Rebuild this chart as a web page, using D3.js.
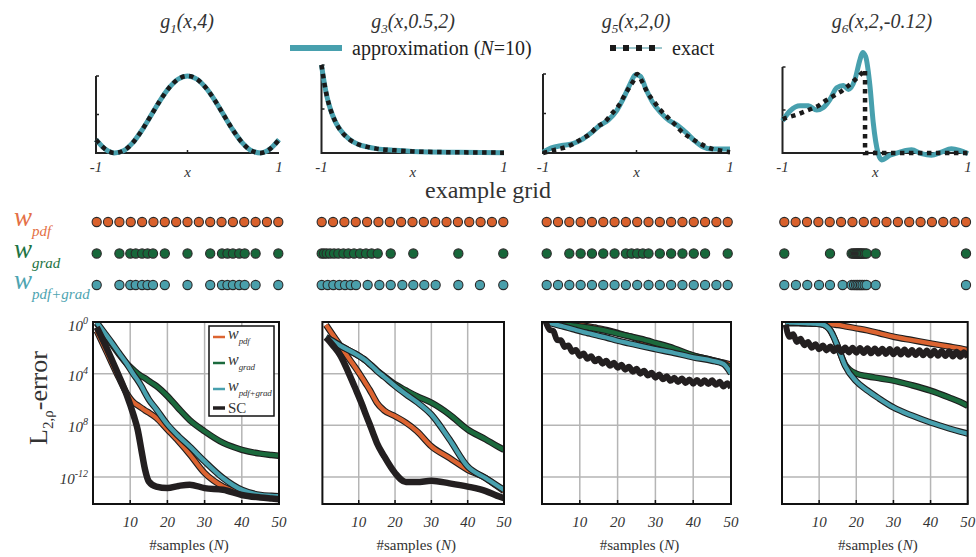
<!DOCTYPE html>
<html>
<head>
<meta charset="utf-8">
<script src="https://cdn.jsdelivr.net/npm/d3@7"></script>
<style>
  body { margin: 0; background: #fff; }
  svg { display: block; font-family: "Liberation Serif", serif; }
</style>
</head>
<body>
<div class="canvas"></div>
<script>
// ---- data ----
const titleSubs = ["1", "3", "5", "6"]
const titleArgs = ["(x,4)", "(x,0.5,2)", "(x,2,0)", "(x,2,-0.12)"]

// top row: exact function and N=10 approximation (relative to axis range)
const exact1X = [-1,-0.9,-0.8,-0.7,-0.6,-0.5,-0.4,-0.3,-0.2,-0.1,0,0.1,0.2,0.3,0.4,0.5,0.6,0.7,0.8,0.9,1]
const exact1Y = [0.173,0.051,0.001,0.029,0.131,0.292,0.485,0.681,0.848,0.961,1,0.961,0.848,0.681,0.485,0.292,0.131,0.029,0.001,0.051,0.173]
const exact2X = [-1,-0.97,-0.94,-0.9,-0.85,-0.8,-0.7,-0.6,-0.5,-0.4,-0.2,0,0.5,1]
const exact2Y = [1,0.8,0.64,0.49,0.36,0.27,0.16,0.1,0.07,0.05,0.03,0.018,0.008,0.004]
const exact3X = [-1,-0.874,-0.766,-0.676,-0.586,-0.496,-0.424,-0.342,-0.263,-0.19,-0.137,-0.083,-0.029,0.007,0.061,0.115,0.187,0.259,0.331,0.403,0.493,0.565,0.655,0.745,0.817,0.906,1]
const exact3Y = [0,0.04,0.07,0.115,0.18,0.24,0.33,0.39,0.5,0.6,0.71,0.82,0.92,1,0.9,0.77,0.65,0.54,0.455,0.37,0.26,0.2,0.136,0.08,0.05,0.03,0.01]
const approx3X = [-1,-0.91,-0.8,-0.69,-0.59,-0.48,-0.39,-0.3,-0.21,-0.14,-0.065,-0.011,0.043,0.097,0.169,0.259,0.349,0.439,0.529,0.619,0.709,0.799,0.888,1]
const approx3Y = [0.01,0.064,0.094,0.115,0.166,0.26,0.35,0.42,0.54,0.69,0.88,0.99,0.97,0.82,0.65,0.51,0.41,0.35,0.26,0.157,0.08,0.05,0.05,0.05]
const exact4X = [-1,-0.828,-0.72,-0.613,-0.541,-0.452,-0.362,-0.272,-0.183,-0.11,-0.11,1]
const exact4Y = [0.395,0.452,0.5,0.548,0.605,0.663,0.72,0.797,0.885,0.97,0,0]
const approx4X = [-1,-0.918,-0.81,-0.72,-0.631,-0.559,-0.487,-0.416,-0.344,-0.29,-0.219,-0.165,-0.136,-0.104,-0.057,-0.022,0.032,0.068,0.158,0.265,0.391,0.498,0.606,0.713,0.821,0.91,1]
const approx4Y = [0.375,0.49,0.548,0.548,0.5,0.529,0.625,0.759,0.785,0.739,0.854,1.084,1.169,1.123,0.778,0.356,-0.008,-0.08,-0.027,0.011,0.038,-0.008,-0.027,0.011,0.05,0.031,-0.008]

// example grids (17 points on [-1,1])
const gridPdf = [-1,-0.875,-0.75,-0.625,-0.5,-0.375,-0.25,-0.125,0,0.125,0.25,0.375,0.5,0.625,0.75,0.875,1]
const grad1 = [-1,-0.75,-0.63,-0.57,-0.5,-0.44,-0.38,-0.25,0,0.25,0.38,0.44,0.5,0.57,0.63,0.75,1]
const both1 = grad1
const grad2 = [-1,-0.974,-0.945,-0.908,-0.864,-0.817,-0.761,-0.706,-0.644,-0.578,-0.512,-0.45,-0.383,-0.24,0.009,0.505,1]
const both2 = [-1,-0.934,-0.872,-0.806,-0.743,-0.681,-0.622,-0.494,-0.365,-0.24,-0.112,0.009,0.13,0.255,0.505,0.743,1]
const grad3 = [-1,-0.75,-0.625,-0.5,-0.375,-0.25,-0.125,-0.0625,0,0.0625,0.125,0.25,0.375,0.5,0.625,0.75,1]
const both3 = gridPdf
const grad4 = [-1,-0.497,-0.259,-0.24,-0.226,-0.211,-0.2,-0.189,-0.178,-0.167,-0.156,-0.145,-0.13,-0.112,-0.094,0.006,1]
const both4 = [-1,-0.872,-0.747,-0.618,-0.497,-0.358,-0.259,-0.233,-0.211,-0.193,-0.174,-0.156,-0.138,-0.116,-0.094,0.006,1]

// error curves, log10 of L2 error
const nGrid = [1,3,5,7,9,11,12,13,14,15,17,20,23,26,30,35,40,45,48,50]
const nAll = d3.range(1, 51)
const err1Pdf  = [-0.68,-1.9,-3.14,-4.35,-5.5,-6.25,-6.45,-6.65,-6.85,-7.02,-7.42,-8.33,-9.25,-10.25,-11.7,-12.75,-13.26,-13.5,-13.6,-13.65]
const err1Grad = [-0.1,-0.9,-1.7,-2.5,-3.2,-3.75,-4.0,-4.2,-4.35,-4.57,-4.95,-5.74,-6.7,-7.6,-8.47,-9.37,-9.9,-10.2,-10.3,-10.36]
const err1Both = [-0.03,-0.8,-1.58,-2.4,-3.2,-4.1,-4.5,-4.96,-5.5,-6.0,-6.75,-7.94,-8.85,-9.65,-10.8,-12.1,-13.0,-13.4,-13.47,-13.5]
const err1SC   = [-0.41,-1.6,-2.88,-4.2,-5.6,-7.3,-8.33,-9.9,-11.45,-12.36,-12.75,-12.87,-12.7,-12.6,-12.87,-13.0,-13.4,-13.6,-13.68,-13.73]
const err2Pdf  = [-0.22,-1.05,-1.85,-2.7,-3.5,-4.35,-4.8,-5.25,-5.75,-6.25,-6.85,-7.3,-7.8,-8.45,-9.63,-10.54,-11.45,-12.1,-12.7,-13.1]
const err2Grad = [-1.19,-1.5,-1.85,-2.15,-2.45,-2.8,-3.0,-3.25,-3.5,-3.75,-4.2,-4.83,-5.3,-5.75,-6.25,-7.17,-8.33,-9.1,-9.6,-9.9]
const err2Both = [-1.19,-1.5,-1.85,-2.15,-2.45,-2.8,-3.0,-3.25,-3.5,-3.79,-4.25,-4.96,-5.6,-6.2,-7.17,-9.1,-11.2,-12.1,-12.65,-13.0]
const err2SC   = [-1.19,-1.85,-2.62,-3.8,-5.1,-6.45,-7.2,-7.9,-8.65,-9.37,-10.4,-11.7,-12.4,-12.4,-12.3,-12.5,-12.75,-13.1,-13.45,-13.65]
const err3Pdf  = [0,-0.03,-0.08,-0.13,-0.2,-0.28,-0.33,-0.38,-0.43,-0.5,-0.62,-0.85,-1.1,-1.4,-1.8,-2.2,-2.6,-2.95,-3.15,-3.3]
const err3Grad = [0,-0.08,-0.15,-0.22,-0.3,-0.38,-0.42,-0.47,-0.52,-0.57,-0.68,-0.9,-1.1,-1.3,-1.62,-2.05,-2.6,-2.95,-3.2,-3.55]
const err3Both = [0,-0.15,-0.3,-0.45,-0.62,-0.78,-0.85,-0.92,-1.0,-1.07,-1.2,-1.45,-1.65,-1.85,-2.1,-2.4,-2.74,-3.0,-3.25,-4.0]
const err3SC   = [0,-0.6,-0.7,-1.4,-1.42,-1.93,-1.82,-2.3,-2.17,-2.63,-2.45,-2.85,-2.65,-3.05,-2.85,-3.23,-3.01,-3.39,-3.16,-3.54,
                  -3.31,-3.69,-3.47,-3.85,-3.62,-4.0,-3.78,-4.15,-3.93,-4.31,-4.07,-4.43,-4.2,-4.56,-4.32,-4.65,-4.38,-4.72,-4.45,-4.78,
                  -4.49,-4.8,-4.51,-4.81,-4.52,-4.87,-4.63,-4.99,-4.74,-5.09]
const err4Pdf  = [-0.1,-0.1,-0.1,-0.1,-0.1,-0.12,-0.14,-0.17,-0.2,-0.23,-0.33,-0.49,-0.65,-0.85,-1.14,-1.4,-1.66,-1.9,-2.05,-2.18]
const err4Grad = [-0.05,-0.05,-0.07,-0.1,-0.13,-0.2,-0.35,-0.65,-1.2,-1.9,-3.3,-4.0,-4.2,-4.35,-4.54,-4.9,-5.32,-5.85,-6.2,-6.49]
const err4Both = [-0.05,-0.05,-0.07,-0.1,-0.13,-0.2,-0.35,-0.65,-1.2,-1.9,-3.4,-4.6,-5.3,-5.9,-6.62,-7.25,-7.79,-8.25,-8.5,-8.65]
const err4SC   = [-0.2,-1.15,-0.95,-1.55,-1.3,-1.8,-1.55,-2.0,-1.72,-2.12,-1.82,-2.2,-1.9,-2.27,-1.95,-2.32,-1.98,-2.36,-2.0,-2.38,
                  -2.02,-2.4,-2.04,-2.43,-2.06,-2.45,-2.08,-2.47,-2.1,-2.5,-2.12,-2.52,-2.14,-2.54,-2.16,-2.56,-2.18,-2.58,-2.2,-2.6,
                  -2.22,-2.62,-2.24,-2.64,-2.27,-2.67,-2.3,-2.7,-2.35,-2.75]

const xTicks = [10, 20, 30, 40, 50]
const yTicks = [0, -4, -8, -12]
const yTickLabels = ["0", "4", "8", "-12"]
const methods = ["pdf", "grad", "pdf+grad"]

// ---- style ----
const cOrange = "#dc6431", cGreen = "#1b6a3d", cTeal = "#48a0ae", cBlack = "#231f20"
const labelColors = ["#e47046", "#1e7444", "#4ea4b1"]
const dotColors = ["#d9612c", "#17673a", "#4a9fab"]

const svg = d3.select(".canvas").append("svg").attr("width", 976).attr("height", 557)

// ---- top row: functions ----
const topPanels = [
  {x0: 96, x1: 279, top: 76, tx: 187, ex: [exact1X, exact1Y], ap: [exact1X, exact1Y]},
  {x0: 321.5, x1: 504, top: 65, tx: 413, ex: [exact2X, exact2Y], ap: [exact2X, exact2Y]},
  {x0: 543, x1: 730, top: 74, tx: 636, ex: [exact3X, exact3Y], ap: [approx3X, approx3Y]},
  {x0: 782.5, x1: 968, top: 67, tx: 882, ex: [exact4X, exact4Y], ap: [approx4X, approx4Y]}
]
const base = 153

topPanels.forEach((p, i) => {
  const x = d3.scaleLinear().domain([-1, 1]).range([p.x0, p.x1])
  const y = d3.scaleLinear().domain([0, 1]).range([base, p.top])
  const g = svg.append("g")

  const t = g.append("text").attr("x", p.tx).attr("y", 28).attr("text-anchor", "middle")
    .attr("font-size", 20).attr("font-style", "italic").attr("fill", "#333")
  t.append("tspan").text("g")
  t.append("tspan").attr("font-size", 13).attr("dy", 5).text(titleSubs[i])
  t.append("tspan").attr("dy", -5).text(titleArgs[i])

  // axes
  g.append("path").attr("d", `M${p.x0},${p.top}V${base}H${p.x1}`)
    .attr("fill", "none").attr("stroke", "#222").attr("stroke-width", 2)
  g.selectAll(".yt").data([0.5, 1]).join("line")
    .attr("x1", p.x0).attr("x2", p.x0 + 3).attr("y1", d => y(d)).attr("y2", d => y(d))
    .attr("stroke", "#222").attr("stroke-width", 1.5)
  g.append("line").attr("x1", x(0)).attr("x2", x(0)).attr("y1", base).attr("y2", base - 3)
    .attr("stroke", "#222").attr("stroke-width", 1.5)

  const lx = d3.line().x(d => x(d[0])).y(d => y(d[1]))
  const hasStep = new Set(p.ex[0]).size < p.ex[0].length
  g.append("path").datum(d3.zip(p.ap[0], p.ap[1]))
    .attr("d", lx.curve(d3.curveMonotoneX))
    .attr("fill", "none").attr("stroke", cTeal).attr("stroke-width", 5)
  g.append("path").datum(d3.zip(p.ex[0], p.ex[1]))
    .attr("d", lx.curve(hasStep ? d3.curveLinear : d3.curveMonotoneX))
    .attr("fill", "none").attr("stroke", "#1a1a1a").attr("stroke-width", 4.5)
    .attr("stroke-dasharray", "4.5,4.5")

  const lab = (tx, xx, yy) => g.append("text").attr("x", xx).attr("y", yy).attr("text-anchor", "middle")
    .attr("font-size", 15).attr("font-style", "italic").attr("fill", "#333").text(tx)
  lab("-1", p.x0, 172)
  lab("1", p.x1, 172)
  lab("x", x(0), 177)
})

// top legend
svg.append("line").attr("x1", 290).attr("x2", 342).attr("y1", 48).attr("y2", 48)
  .attr("stroke", cTeal).attr("stroke-width", 6)
const la = svg.append("text").attr("x", 352).attr("y", 55).attr("font-size", 20).attr("fill", "#222")
la.append("tspan").text("approximation (")
la.append("tspan").attr("font-style", "italic").text("N")
la.append("tspan").text("=10)")
svg.append("line").attr("x1", 610).attr("x2", 662).attr("y1", 48).attr("y2", 48)
  .attr("stroke", "#3d8f9a").attr("stroke-width", 1)
svg.append("line").attr("x1", 610).attr("x2", 662).attr("y1", 48).attr("y2", 48)
  .attr("stroke", "#1a1a1a").attr("stroke-width", 6).attr("stroke-dasharray", "6,7")
svg.append("text").attr("x", 672).attr("y", 55).attr("font-size", 20).attr("fill", "#222").text("exact")

// ---- middle row: example grids ----
svg.append("text").attr("x", 488).attr("y", 198).attr("text-anchor", "middle")
  .attr("font-size", 24).attr("fill", "#333").text("example grid")

const rowY = [222, 253.5, 285]
methods.forEach((m, r) => {
  const t = svg.append("text").attr("x", 14).attr("y", rowY[r] + 4).attr("fill", labelColors[r])
    .attr("font-style", "italic")
  t.append("tspan").attr("font-size", 27).text("w")
  t.append("tspan").attr("font-size", 15).attr("dy", 10).text(m)
})

const gridPanels = [
  {x0: 96.7, x1: 278.3, rows: [gridPdf, grad1, both1]},
  {x0: 321.7, x1: 503.3, rows: [gridPdf, grad2, both2]},
  {x0: 546.7, x1: 727.7, rows: [gridPdf, grad3, both3]},
  {x0: 784.3, x1: 966, rows: [gridPdf, grad4, both4]}
]
gridPanels.forEach(p => {
  const x = d3.scaleLinear().domain([-1, 1]).range([p.x0, p.x1])
  p.rows.forEach((pts, r) => {
    svg.append("g").selectAll("circle").data(pts).join("circle")
      .attr("cx", d => x(d)).attr("cy", rowY[r]).attr("r", 4.6)
      .attr("fill", dotColors[r]).attr("stroke", "#2a2a2a").attr("stroke-width", 1.1)
  })
})

// ---- bottom row: errors ----
const botPanels = [
  {x0: 93, x1: 279, series: [err1Pdf, err1Grad, err1Both, err1SC]},
  {x0: 322.4, x1: 504, series: [err2Pdf, err2Grad, err2Both, err2SC]},
  {x0: 542, x1: 731, series: [err3Pdf, err3Grad, err3Both, err3SC]},
  {x0: 782, x1: 967.7, series: [err4Pdf, err4Grad, err4Both, err4SC]}
]
const bTop = 322, bBot = 504
const colors = [cOrange, cGreen, cTeal, cBlack]

botPanels.forEach((p, i) => {
  const x = d3.scaleLinear().domain([0, 50]).range([p.x0, p.x1])
  const y = d3.scaleLog().domain([Math.pow(10, -14.1), 1]).range([bBot, bTop])
  const g = svg.append("g")

  g.append("clipPath").attr("id", "clip" + i).append("rect")
    .attr("x", p.x0).attr("y", bTop).attr("width", p.x1 - p.x0).attr("height", bBot - bTop)

  // grid
  g.selectAll(".gx").data(xTicks.slice(0, 4)).join("line")
    .attr("x1", d => x(d)).attr("x2", d => x(d)).attr("y1", bTop).attr("y2", bBot)
    .attr("stroke", "#b5b5b5").attr("stroke-width", 1.5)
  g.selectAll(".gy").data(yTicks.slice(1)).join("line")
    .attr("x1", p.x0).attr("x2", p.x1).attr("y1", d => y(Math.pow(10, d))).attr("y2", d => y(Math.pow(10, d)))
    .attr("stroke", "#b5b5b5").attr("stroke-width", 1.5)

  const curves = g.append("g").attr("clip-path", `url(#clip${i})`)
  p.series.forEach((s, k) => {
    const ns = s.length === nAll.length ? nAll : nGrid
    const pts = d3.zip(ns, s)
    const line = d3.line().x(d => x(d[0])).y(d => y(Math.pow(10, d[1]))).curve(d3.curveMonotoneX)
    if (k < 3) {
      curves.append("path").datum(pts).attr("d", line)
        .attr("fill", "none").attr("stroke", "#1e1e1e").attr("stroke-width", 6.5)
      curves.append("path").datum(pts).attr("d", line)
        .attr("fill", "none").attr("stroke", colors[k]).attr("stroke-width", 4.3)
    } else {
      curves.append("path").datum(pts).attr("d", line)
        .attr("fill", "none").attr("stroke", cBlack).attr("stroke-width", i < 2 ? 6.5 : 6)
        .attr("stroke-linejoin", "round")
    }
  })

  // frame + ticks
  g.append("rect").attr("x", p.x0).attr("y", bTop).attr("width", p.x1 - p.x0).attr("height", bBot - bTop)
    .attr("fill", "none").attr("stroke", "#111").attr("stroke-width", 2)
  g.selectAll(".tk").data(xTicks).join("line")
    .attr("x1", d => x(d)).attr("x2", d => x(d)).attr("y1", bBot).attr("y2", bBot - 4)
    .attr("stroke", "#111").attr("stroke-width", 1.5)

  g.selectAll(".xl").data(xTicks).join("text")
    .attr("x", d => x(d)).attr("y", 527).attr("text-anchor", "middle")
    .attr("font-size", 15).attr("font-style", "italic").attr("fill", "#333").text(d => d)
  const xt = g.append("text").attr("x", (p.x0 + p.x1) / 2 + 3).attr("y", 550).attr("text-anchor", "middle")
    .attr("font-size", 15).attr("fill", "#333")
  xt.append("tspan").text("#samples (")
  xt.append("tspan").attr("font-style", "italic").text("N")
  xt.append("tspan").text(")")

  if (i === 0) {
    yTicks.forEach((d, j) => {
      const t = g.append("text").attr("x", 88).attr("y", y(Math.pow(10, d)) + (j === 0 ? 9 : 7))
        .attr("text-anchor", "end").attr("font-style", "italic").attr("fill", "#333")
      t.append("tspan").attr("font-size", 15).text("10")
      t.append("tspan").attr("font-size", 10).attr("dy", -7).text(yTickLabels[j])
    })

    const yl = g.append("text").attr("transform", "translate(47,398) rotate(-90)")
      .attr("text-anchor", "middle").attr("fill", "#333")
    yl.append("tspan").attr("font-size", 26).text("L")
    yl.append("tspan").attr("font-size", 15).attr("dy", 6).text("2,ρ")
    yl.append("tspan").attr("font-size", 26).attr("dy", -6).text("-error")

    // legend
    g.append("rect").attr("x", 209).attr("y", 326).attr("width", 65).attr("height", 90)
      .attr("fill", "#fff").attr("stroke", "#111").attr("stroke-width", 1.5)
    const ly = [337, 363, 389, 408]
    ly.forEach((yy, k) => {
      g.append("line").attr("x1", 213).attr("x2", 225).attr("y1", yy).attr("y2", yy)
        .attr("stroke", colors[k]).attr("stroke-width", k < 3 ? 2.5 : 3.5)
      if (k < 3) {
        const t = g.append("text").attr("x", 228).attr("y", yy + 2).attr("fill", "#333").attr("font-style", "italic")
        t.append("tspan").attr("font-size", 16).text("w")
        t.append("tspan").attr("font-size", 9).attr("dy", 5).attr("letter-spacing", -0.2).text(methods[k])
      } else {
        g.append("text").attr("x", 228).attr("y", yy + 5).attr("font-size", 15).attr("fill", "#333").text("SC")
      }
    })
  }
})
</script>
</body>
</html>
